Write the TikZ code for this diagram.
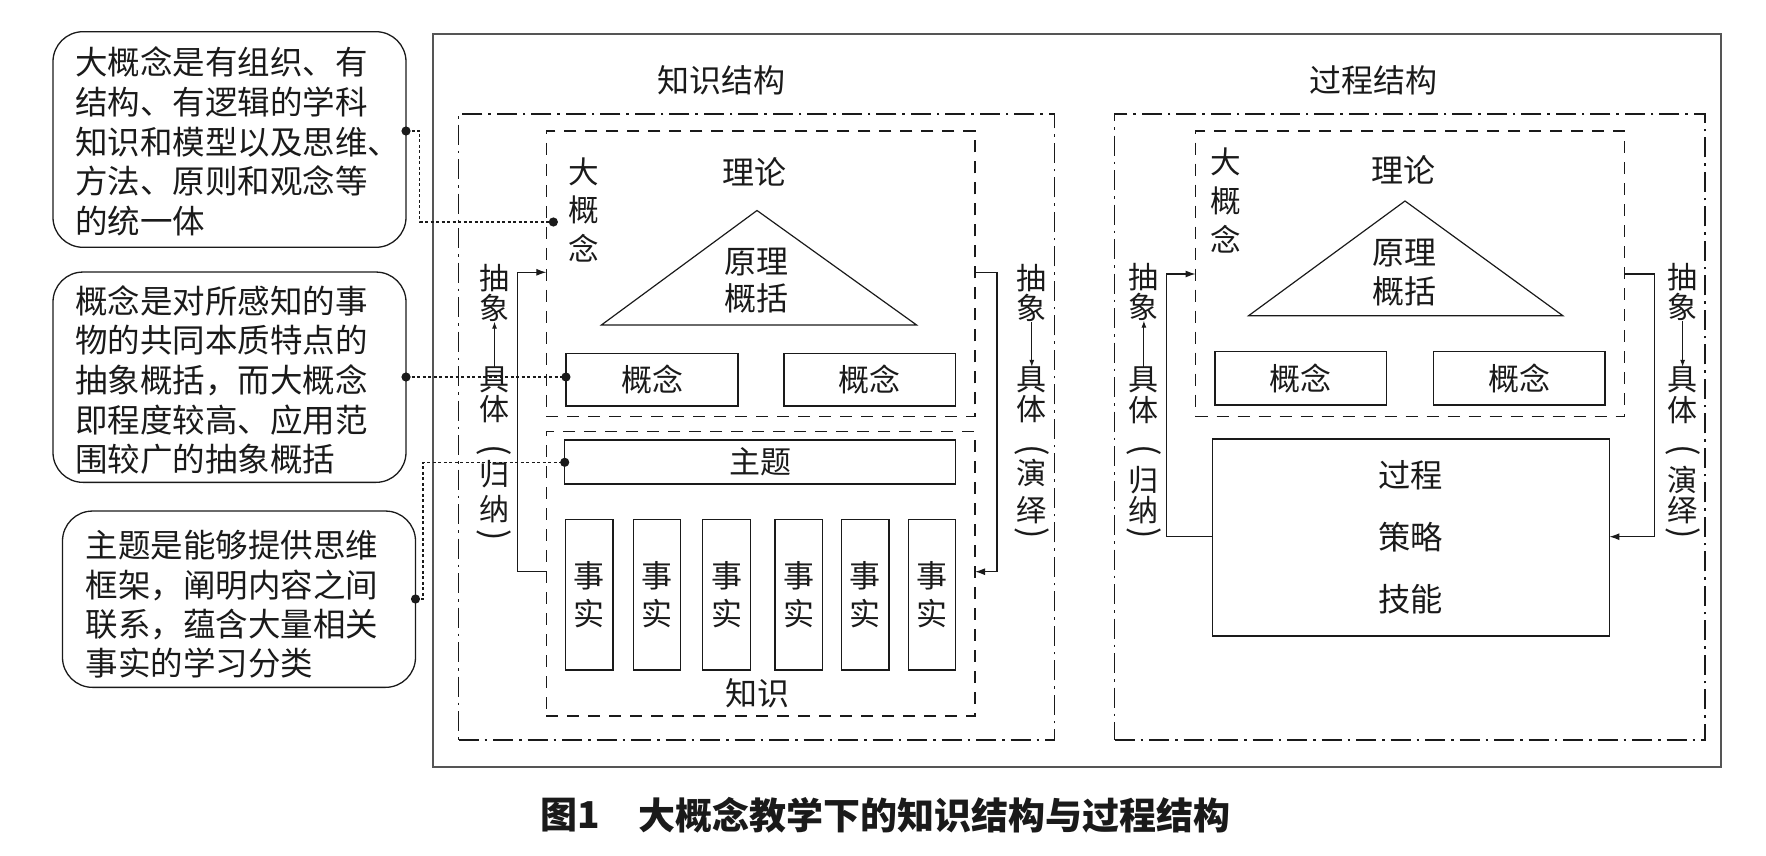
\documentclass[tikz,border=0pt]{standalone}
\usepackage{fontspec}
\setmainfont{Noto Sans CJK SC}
\usetikzlibrary{arrows.meta}
\newcommand{\fsz}[2]{\fontsize{#1}{#2}\selectfont}
\newcommand{\vlp}{\rotatebox{-90}{\fsz{34}{34}(}}
\newcommand{\vrp}{\rotatebox{-90}{\fsz{34}{34})}}
\definecolor{ink}{HTML}{1A1A1A}
\definecolor{frame}{HTML}{555555}
\begin{document}
\begin{tikzpicture}[x=1pt,y=-1pt,
  every node/.style={inner sep=0pt, outer sep=0pt, text=ink},
  tbox/.style={draw=ink, line width=1.2pt, font=\fsz{31}{38.5}, align=center},
  dashbox/.style={draw=ink, line width=1.2pt, dash pattern=on 12pt off 9pt},
  ddbox/.style={draw=ink, line width=1.2pt, dash pattern=on 20pt off 6pt on 2.5pt off 6pt},
  dotln/.style={draw=ink, line width=1.1pt, dash pattern=on 3pt off 2.5pt},
  callout/.style={draw=ink, line width=1.3pt, rounded corners=30pt},
  arr/.style={draw=ink, line width=1.2pt, -{Latex[length=10pt,width=7pt]}},
  sarr/.style={draw=ink, line width=1pt, -{Latex[length=7pt,width=5pt]}},
  ctext/.style={font=\fsz{32.5}{39.6}, align=left, anchor=north west},
  vch/.style={font=\fsz{30}{30}},
  head/.style={font=\fsz{32}{32}},
  dotfill/.style={fill=ink},
]
\useasboundingbox (0,0) rectangle (1766,856);

% outer frame
\node[draw=frame, line width=2pt, minimum width=1288, minimum height=733] (outer) at (1077.3,400.3) {};

% callout boxes
\node[callout, minimum width=353, minimum height=215.6] (b1) at (229.5,139.5) {};
\node[callout, minimum width=353, minimum height=210.3] (b2) at (229.5,377.2) {};
\node[callout, minimum width=353, minimum height=176.3] (b3) at (239,599.2) {};
\node[ctext] (t1) at (75,47) {大概念是有组织、有\\结构、有逻辑的学科\\知识和模型以及思维、\\方法、原则和观念等\\的统一体};
\node[ctext] (t2) at (75,285.4) {概念是对所感知的事\\物的共同本质特点的\\抽象概括，而大概念\\即程度较高、应用范\\围较广的抽象概括};
\node[ctext, font=\fsz{32.5}{39.4}] (t3) at (85.7,530.4) {主题是能够提供思维\\框架，阐明内容之间\\联系，蕴含大量相关\\事实的学习分类};

% headings
\node[head] (hL) at (721.8,80) {知识结构};
\node[head] (hR) at (1373,80) {过程结构};

% panels
\node[ddbox, minimum width=595.9, minimum height=626] (LP) at (756.6,427) {};
\node[ddbox, minimum width=590.4, minimum height=626] (RP) at (1409.8,427) {};
\node[dashbox, minimum width=428.7, minimum height=285.7] (LU) at (760.7,273.9) {};
\node[dashbox, minimum width=428.7, minimum height=284.3] (LL) at (760.7,573.9) {};
\node[dashbox, minimum width=428.9, minimum height=285.7] (RU) at (1410,273.9) {};

% ---- left panel content
\node[head] (thL) at (754,172) {理论};
\coordinate (triLa) at (757,210.5);
\coordinate (triLb) at (601.4,325);
\coordinate (triLc) at (916.6,325);
\draw[draw=ink, line width=1.2pt] (triLa) -- (triLb) -- (triLc) -- cycle;
\node[font=\fsz{32}{36.5}, align=center] (yLL) at (756,280.5) {原理\\概括};
\node[font=\fsz{30.6}{38.3}, align=center] (bigL) at (584.2,210) {大\\概\\念};
\node[tbox, minimum width=172.1, minimum height=52.7] (cLA) at (652,379.7) {概念};
\node[tbox, minimum width=171.5, minimum height=52.7] (cLB) at (869.8,379.7) {概念};
\node[tbox, minimum width=390.8, minimum height=44] (zt) at (760.1,462) {主题};
\foreach \x [count=\i] in {589.2,656.9,726.6,798.7,865.2,932}
  \node[tbox, minimum width=47.5, minimum height=150.7] (f\i) at (\x,594.7) {事\\实};
\node[head] (zs) at (757.5,693) {知识};

% ---- right panel content
\node[head] (thR) at (1403.8,170) {理论};
\coordinate (triRa) at (1405,201);
\coordinate (triRb) at (1248.6,315.7);
\coordinate (triRc) at (1562.8,315.7);
\draw[draw=ink, line width=1.2pt] (triRa) -- (triRb) -- (triRc) -- cycle;
\node[font=\fsz{32}{38.4}, align=center] (yLR) at (1404,272.5) {原理\\概括};
\node[font=\fsz{30.6}{39}, align=center] (bigR) at (1225.8,201) {大\\概\\念};
\node[tbox, minimum width=171.5, minimum height=53.3] (cRA) at (1300.8,378.4) {概念};
\node[tbox, minimum width=171.5, minimum height=53.3] (cRB) at (1519.3,378.4) {概念};
\node[tbox, minimum width=397, minimum height=197, font=\fsz{32.3}{62}] (proc) at (1410.9,537.5) {过程\\策略\\技能};

% ---- induction / deduction arrows
\draw[arr] (LL.west |- 0,571.7) -- (517.7,571.7) -- (517.7,272.3) -- (LU.west |- 0,272.3);
\draw[arr] (LU.east |- 0,272.3) -- (997,272.3) -- (997,571.7) -- (LL.east |- 0,571.7);
\draw[arr] (proc.west |- 0,536.7) -- (1166.3,536.7) -- (1166.3,274) -- (RU.west |- 0,274);
\draw[arr] (RU.east |- 0,274) -- (1654.6,274) -- (1654.6,536.7) -- (proc.east |- 0,536.7);

% ---- vertical labels
\foreach \c/\y [count=\i] in {抽/278,象/308,具/380,体/409,\vlp/450,归/474,纳/509,\vrp/535}
  \node[vch] (vA\i) at (494.5,\y) {\c};
\foreach \c/\y [count=\i] in {抽/278,象/308,具/380,体/409,\vlp/450,演/473,绎/510,\vrp/533}
  \node[vch] (vB\i) at (1031.8,\y) {\c};
\foreach \c/\y [count=\i] in {抽/277,象/307,具/380,体/410,\vlp/450,归/480,纳/510,\vrp/533}
  \node[vch] (vC\i) at (1143.9,\y) {\c};
\foreach \c/\y [count=\i] in {抽/277,象/307,具/380,体/410,\vlp/450,演/480,绎/510,\vrp/533}
  \node[vch] (vD\i) at (1682.6,\y) {\c};
\draw[sarr] (vA3.north) -- (vA2.south);
\draw[sarr] (vB2.south) -- (vB3.north);
\draw[sarr] (vC3.north) -- (vC2.south);
\draw[sarr] (vD2.south) -- (vD3.north);

% ---- dotted callout connectors
\coordinate (d1a) at (b1.east |- 0,131);
\coordinate (d1b) at ([xshift=7pt]LU.west |- 0,222);
\draw[dotln] (d1a) -- (419.6,131) -- (419.6,222) -- (d1b);
\coordinate (d2a) at (b2.east |- 0,377);
\coordinate (d2b) at (cLA.west |- 0,377);
\draw[dotln] (d2a) -- (d2b);
\coordinate (d3a) at (b3.east |- 0,599);
\coordinate (d3b) at (zt.west |- 0,462.3);
\draw[dotln] (d3a) -- (423,599) -- (423,462.3) -- (d3b);
\foreach \p in {d1a,d1b,d2a,d2b,d3a,d3b}
  \fill[dotfill] (\p) circle[radius=4.6pt];

% ---- caption
\node[font=\fsz{37}{37}\bfseries, anchor=west] (capA) at (540.6,815) {图1};
\node[font=\fsz{37}{37}\bfseries] (capB) at (934,815) {大概念教学下的知识结构与过程结构};
\end{tikzpicture}
\end{document}
